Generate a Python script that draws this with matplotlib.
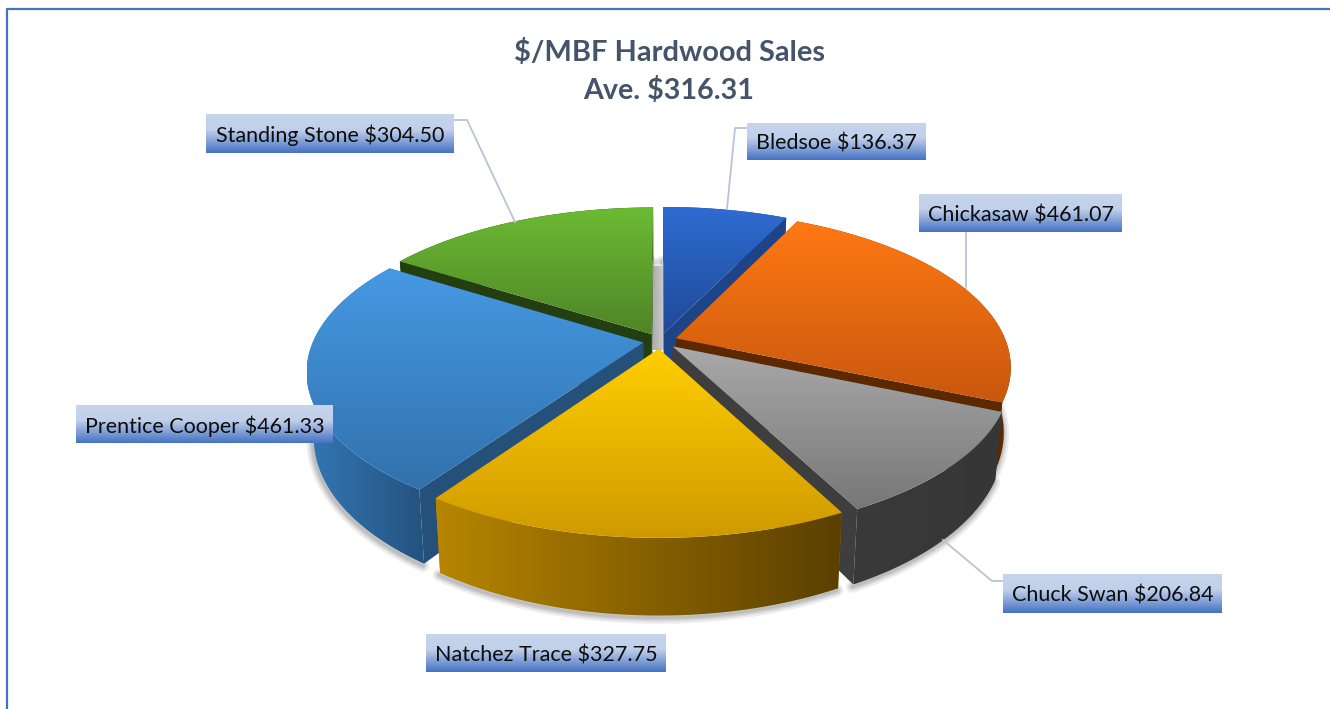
import matplotlib
matplotlib.use('Agg')
import matplotlib.pyplot as plt
import matplotlib.colors as mc
from matplotlib.patches import Polygon
import numpy as np

names = ['Bledsoe', 'Chickasaw', 'Chuck Swan', 'Natchez Trace', 'Prentice Cooper', 'Standing Stone']
sales = [136.37, 461.07, 206.84, 327.75, 461.33, 304.50]
average = 316.31

top_light = ['#2F6CD2', '#FF7813', '#A9A9A9', '#FFCE00', '#4699E3', '#6CBB34']
top_dark = ['#1F4A98', '#C8580E', '#777777', '#CF9A00', '#3171AC', '#4F8427']
side_left = ['#1E4488', '#7A3503', '#3A3A3A', '#B78500', '#3377B4', '#233F10']
side_right = ['#1E4488', '#5E2800', '#363636', '#5A3F00', '#25527F', '#233F10']
wall = ['#1E4488', '#5C2800', '#3E3E3E', '#B78500', '#24507A', '#233F10']

# label boxes: left, top, right, bottom
boxes = [(747, 123, 926, 160), (919, 194, 1122, 232), (1003, 574, 1222, 613),
         (426, 634, 666, 672), (76, 405, 333, 443), (206, 114, 454, 153)]
leaders = [[(747, 128), (735, 128), (727, 209)],
           [(966, 232), (966, 288)],
           [(1003, 581), (992, 581), (943, 540)],
           [(454, 120), (467, 120), (515, 222)]]

CX, CY, R = 660, 341, 330
PERSP, TILT, DEPTH, EXPLODE, SHRINK = 0.18, 0.46, 63, 17, 0.02


def project(a, r, mid, z=0):
    X = r * np.sin(a) + EXPLODE * np.sin(mid)
    Y = r * np.cos(a) + EXPLODE * np.cos(mid)
    s = 1 / (1 + PERSP * Y / R)
    # the bottom of the pie is a bit narrower than the top
    return np.column_stack([CX + X * s * (1 - SHRINK * z / DEPTH), CY - TILT * Y * s + z * s])


def grad_fill(xy, colors, z, vertical=True, stops=None):
    x0, y0 = xy.min(axis=0)
    x1, y1 = xy.max(axis=0)
    stops = stops if stops is not None else np.linspace(0, 1, len(colors))
    t = np.linspace(0, 1, 256)
    rgb = np.array([mc.to_rgb(c) for c in colors])
    g = np.stack([np.interp(t, stops, rgb[:, i]) for i in range(3)], axis=-1)
    g = g[:, None, :] if vertical else g[None, :, :]
    patch = Polygon(xy, closed=True, fc='none', ec='none')
    ax.add_patch(patch)
    im = ax.imshow(g, extent=(x0, x1, y1, y0), aspect='auto', zorder=z, interpolation='bilinear')
    im.set_clip_path(patch)


fig = plt.figure(figsize=(13.3, 7.09), dpi=100)
ax = fig.add_axes([0, 0, 1, 1])
ax.set_axis_off()

bounds = np.radians(np.concatenate([[0], np.cumsum(sales)]) / sum(sales) * 360)

# gray gap behind the slices
grad_fill(np.array([(653, 266), (664, 266), (664, 350), (653, 350)], float), ['#AEAEAE', '#CBCBCB'], 2, vertical=False)

z = 3
for i in [5, 0, 4, 1, 2, 3]:
    a0, a1 = bounds[i], bounds[i + 1]
    mid = (a0 + a1) / 2
    t = np.linspace(a0, a1, 120)
    rim = project(t, R, mid)
    low = project(t, R, mid, DEPTH)
    apex = project(np.array([0.0]), 0, mid)
    apex_low = project(np.array([0.0]), 0, mid, DEPTH)

    # soft shadow under the outer wall
    for w in (2, 4, 6, 9):
        ax.plot(low[:, 0] - 1, low[:, 1] + 2, color='k', alpha=0.07, lw=w, zorder=1, solid_capstyle='round')

    for k in (0, -1):
        face = np.vstack([apex, rim[k], low[k], apex_low])
        ax.add_patch(Polygon(face, closed=True, fc=wall[i], ec='none', zorder=z))
    z += 1
    grad_fill(np.vstack([rim, low[::-1]]), [side_left[i], side_right[i]], z, vertical=False)
    z += 1
    grad_fill(np.vstack([apex, rim]), [top_light[i], top_dark[i]], z)
    z += 1

# leader lines
for pts in leaders:
    ax.plot(*zip(*pts), color='#B8C4D6', lw=1.3, zorder=z)
z += 1

# data labels
for name, val, (l, t, r, b) in zip(names, sales, boxes):
    box = np.array([(l, t), (r, t), (r, b), (l, b)], float)
    grad_fill(box, ['#C6D4EC', '#C1D0EA', '#4472C4'], z, stops=[0, 0.4, 1])
    ax.text((l + r) / 2, (t + b) / 2 + 2, f'{name} ${val:.2f}', family='Lato', fontsize=15.5,
            color='#0D0D0D', ha='center', va='center', zorder=z + 1)

ax.text(670, 53, '$/MBF Hardwood Sales', family='Lato', fontweight='bold', fontsize=20.9,
        color='#44546A', ha='center', va='center')
ax.text(669, 90.5, f'Ave. ${average:.2f}', family='Lato', fontweight='bold', fontsize=20.6,
        color='#44546A', ha='center', va='center')

# chart frame
ax.plot([7, 7, 1330], [709, 9, 9], color='#4472C4', lw=1.6, zorder=z + 2)

ax.set_xlim(0, 1330)
ax.set_ylim(709, 0)
plt.savefig('out.png', dpi=100)
